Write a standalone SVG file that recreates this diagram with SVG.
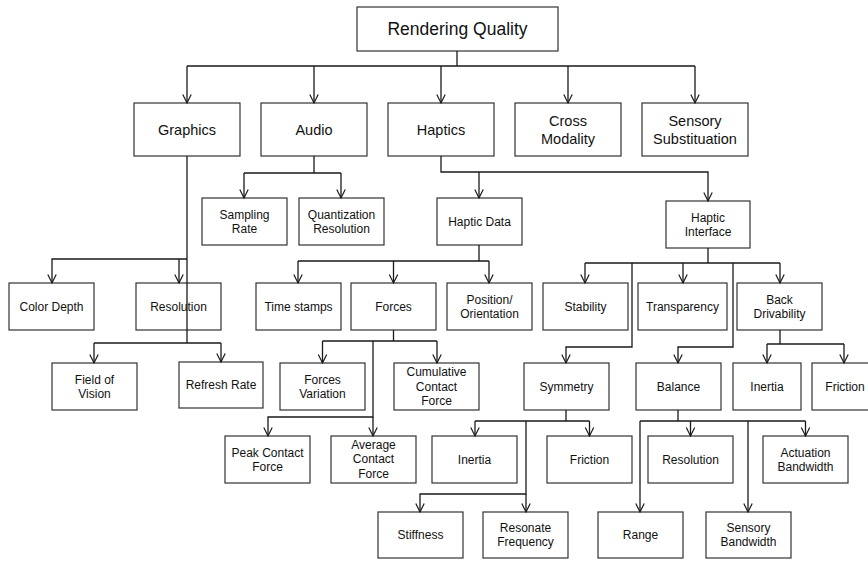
<svg xmlns="http://www.w3.org/2000/svg" width="868" height="561" viewBox="0 0 868 561">
<style>
rect{fill:#fff;stroke:#333;stroke-width:1.2}
text{font-family:"Liberation Sans",Arial,sans-serif;font-size:12px;fill:#111;text-anchor:middle}
.b{font-size:14.5px}
.t{font-size:17.5px}
#connectors path{fill:none;stroke:#1a1a1a;stroke-width:1.3}
#connectors .a{marker-end:url(#ah)}
</style>
<defs>
<marker id="ah" markerUnits="userSpaceOnUse" markerWidth="12" markerHeight="12" viewBox="-1 -1 12 12" refX="9" refY="4.5" orient="auto">
<path d="M0.5,0.3 L9,4.5 L0.5,8.7" fill="none" stroke="#1a1a1a" stroke-width="1.2"/>
</marker>
</defs>
<rect x="0" y="0" width="868" height="561" style="fill:#fff;stroke:none"/>
<g id="rendering-quality"><rect x="357" y="7" width="201" height="44"/><text class="t" x="457.5" y="35.2">Rendering Quality</text></g>
<g id="graphics"><rect x="134" y="103" width="106" height="53"/><text class="b" x="187" y="134.7">Graphics</text></g>
<g id="audio"><rect x="261" y="103" width="106" height="53"/><text class="b" x="314" y="134.7">Audio</text></g>
<g id="haptics"><rect x="388" y="103" width="106" height="53"/><text class="b" x="441" y="134.7">Haptics</text></g>
<g id="cross-modality"><rect x="515" y="103" width="106" height="53"/><text class="b" x="568" y="125.7">Cross<tspan x="568" dy="18">Modality</tspan></text></g>
<g id="sensory-substitution"><rect x="642" y="103" width="106" height="53"/><text class="b" x="695" y="125.7">Sensory<tspan x="695" dy="18">Substituation</tspan></text></g>
<g id="sampling-rate"><rect x="202" y="198" width="85" height="47"/><text x="244.5" y="218.7">Sampling<tspan x="244.5" dy="14">Rate</tspan></text></g>
<g id="quantization-resolution"><rect x="299" y="198" width="85" height="47"/><text x="341.5" y="218.7">Quantization<tspan x="341.5" dy="14">Resolution</tspan></text></g>
<g id="haptic-data"><rect x="437" y="198" width="85" height="47"/><text x="479.5" y="225.7">Haptic Data</text></g>
<g id="haptic-interface"><rect x="666" y="201" width="84" height="47"/><text x="708" y="221.7">Haptic<tspan x="708" dy="14">Interface</tspan></text></g>
<g id="color-depth"><rect x="9" y="283" width="85" height="47"/><text x="51.5" y="310.7">Color Depth</text></g>
<g id="resolution-graphics"><rect x="136" y="283" width="85" height="47"/><text x="178.5" y="310.7">Resolution</text></g>
<g id="time-stamps"><rect x="256" y="283" width="85" height="47"/><text x="298.5" y="310.7">Time stamps</text></g>
<g id="forces"><rect x="351" y="283" width="85" height="47"/><text x="393.5" y="310.7">Forces</text></g>
<g id="position-orientation"><rect x="447" y="283" width="85" height="47"/><text x="489.5" y="303.7">Position/<tspan x="489.5" dy="14">Orientation</tspan></text></g>
<g id="stability"><rect x="543" y="283" width="85" height="47"/><text x="585.5" y="310.7">Stability</text></g>
<g id="transparency"><rect x="638" y="283" width="89" height="47"/><text x="682.5" y="310.7">Transparency</text></g>
<g id="back-drivability"><rect x="737" y="283" width="85" height="47"/><text x="779.5" y="303.7">Back<tspan x="779.5" dy="14">Drivability</tspan></text></g>
<g id="field-of-vision"><rect x="52" y="363" width="85" height="47"/><text x="94.5" y="383.7">Field of<tspan x="94.5" dy="14">Vision</tspan></text></g>
<g id="refresh-rate"><rect x="179" y="362" width="84" height="46"/><text x="221" y="389.2">Refresh Rate</text></g>
<g id="forces-variation"><rect x="280" y="363" width="85" height="47"/><text x="322.5" y="383.7">Forces<tspan x="322.5" dy="14">Variation</tspan></text></g>
<g id="cumulative-contact-force"><rect x="394" y="363" width="85" height="47"/><text x="436.5" y="376">Cumulative<tspan x="436.5" dy="14.5">Contact</tspan><tspan x="436.5" dy="14.5">Force</tspan></text></g>
<g id="symmetry"><rect x="524" y="363" width="85" height="47"/><text x="566.5" y="390.7">Symmetry</text></g>
<g id="balance"><rect x="636" y="363" width="85" height="47"/><text x="678.5" y="390.7">Balance</text></g>
<g id="inertia-bd"><rect x="733" y="363" width="68" height="47"/><text x="767" y="390.7">Inertia</text></g>
<g id="friction-bd"><rect x="812" y="363" width="66" height="47"/><text x="845" y="390.7">Friction</text></g>
<g id="peak-contact-force"><rect x="225" y="436" width="85" height="47"/><text x="267.5" y="456.7">Peak Contact<tspan x="267.5" dy="14">Force</tspan></text></g>
<g id="average-contact-force"><rect x="331" y="436" width="85" height="47"/><text x="373.5" y="448.5">Average<tspan x="373.5" dy="14.5">Contact</tspan><tspan x="373.5" dy="14.5">Force</tspan></text></g>
<g id="inertia-sym"><rect x="432" y="436" width="85" height="47"/><text x="474.5" y="463.7">Inertia</text></g>
<g id="friction-sym"><rect x="547" y="436" width="85" height="47"/><text x="589.5" y="463.7">Friction</text></g>
<g id="resolution-bal"><rect x="648" y="436" width="85" height="47"/><text x="690.5" y="463.7">Resolution</text></g>
<g id="actuation-bandwidth"><rect x="763" y="436" width="85" height="47"/><text x="805.5" y="456.7">Actuation<tspan x="805.5" dy="14">Bandwidth</tspan></text></g>
<g id="stiffness"><rect x="378" y="512" width="85" height="46"/><text x="420.5" y="539.2">Stiffness</text></g>
<g id="resonate-frequency"><rect x="483" y="512" width="85" height="46"/><text x="525.5" y="532.2">Resonate<tspan x="525.5" dy="14">Frequency</tspan></text></g>
<g id="range"><rect x="598" y="512" width="85" height="46"/><text x="640.5" y="539.2">Range</text></g>
<g id="sensory-bandwidth"><rect x="706" y="512" width="85" height="46"/><text x="748.5" y="532.2">Sensory<tspan x="748.5" dy="14">Bandwidth</tspan></text></g>
<g id="connectors">
<path d="M457,51 V66 M187,66 H695"/>
<path class="a" d="M187,66 V103"/>
<path class="a" d="M314,66 V103"/>
<path class="a" d="M441,66 V103"/>
<path class="a" d="M568,66 V103"/>
<path class="a" d="M695,66 V103"/>
<path d="M187,156 V343"/>
<path class="a" d="M187,259 H52 V283"/>
<path class="a" d="M179,259 V283"/>
<path d="M94,343 H221"/>
<path class="a" d="M94,343 V363"/>
<path class="a" d="M221,343 V362"/>
<path d="M314,156 V173 M244,173 H341"/>
<path class="a" d="M244,173 V198"/>
<path class="a" d="M341,173 V198"/>
<path class="a" d="M441,156 V172 H708 V201"/>
<path class="a" d="M479,172 V198"/>
<path d="M479,245 V261 M298,261 H489"/>
<path class="a" d="M298,261 V283"/>
<path class="a" d="M393.5,261 V283"/>
<path class="a" d="M489,261 V283"/>
<path d="M708,248 V263 M585,263 H780"/>
<path class="a" d="M585,263 V283"/>
<path class="a" d="M683,263 V283"/>
<path class="a" d="M780,263 V283"/>
<path class="a" d="M632,263 V347 H566 V363"/>
<path class="a" d="M733,263 V347 H678 V363"/>
<path d="M393.5,330 V341 M322.5,341 H437"/>
<path class="a" d="M322.5,341 V363"/>
<path class="a" d="M437,341 V363"/>
<path class="a" d="M373,341 V417 H268 V436"/>
<path class="a" d="M373,417 V436"/>
<path d="M566,410 V421 M475,421 H589.5"/>
<path class="a" d="M475,421 V436"/>
<path class="a" d="M589.5,421 V436"/>
<path class="a" d="M526,421 V494 H420 V512"/>
<path class="a" d="M526,494 V512"/>
<path d="M678,410 V421 M640,421 H805.5"/>
<path class="a" d="M640,421 V512"/>
<path class="a" d="M690.5,421 V436"/>
<path class="a" d="M748,421 V512"/>
<path class="a" d="M805.5,421 V436"/>
<path d="M780,330 V344 M767,344 H844"/>
<path class="a" d="M767,344 V363"/>
<path class="a" d="M844,344 V363"/>
</g>
</svg>
